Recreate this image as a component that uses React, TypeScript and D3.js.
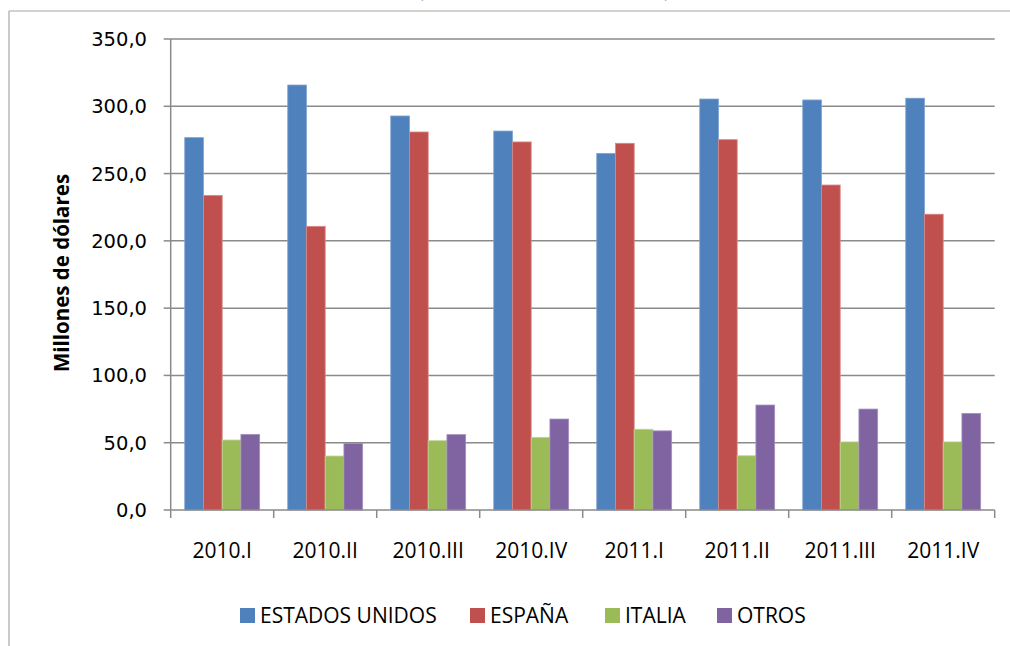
import React from "react";
import * as d3 from "d3";

const categories = ["2010.I", "2010.II", "2010.III", "2010.IV", "2011.I", "2011.II", "2011.III", "2011.IV"];
const seriesNames = ["ESTADOS UNIDOS", "ESPAÑA", "ITALIA", "OTROS"];
const estadosUnidos = [276.7, 315.8, 292.8, 281.6, 265.0, 305.4, 304.7, 306.0];
const espana = [233.8, 210.8, 280.9, 273.5, 272.5, 275.2, 241.5, 219.8];
const italia = [52.0, 40.1, 51.5, 54.0, 60.0, 40.3, 50.6, 50.6];
const otros = [56.2, 49.5, 56.0, 67.6, 58.8, 78.0, 75.0, 71.8];
const yTicks = [0, 50, 100, 150, 200, 250, 300, 350];

const seriesValues = [estadosUnidos, espana, italia, otros];
const colors = ["#4F81BD", "#C0504D", "#9BBB59", "#8064A2"];
const strokes = ["#7FA3D3", "#D88A88", "#BFD496", "#A48FC0"];

export default function App() {
  const W = 1010, H = 646;
  const x0 = 170.7, x1 = 994.7, yTop = 39, yBot = 510;
  const x = d3.scaleBand<string>().domain(categories).range([x0, x1]).paddingInner(0).paddingOuter(0);
  const xs = d3.scaleBand<string>().domain(seriesNames).range([0, x.bandwidth()]).paddingInner(0).paddingOuter(0.75);
  const y = d3.scaleLinear().domain([0, 350]).range([yBot, yTop]);
  const fmt = (v: number) => d3.format(".1f")(v).replace(".", ",");
  const legendX = [240, 470, 605, 717];
  const grid = "#8A8A8A";

  return (
    <svg width={W} height={H} style={{ position: "absolute", left: 0, top: 0, background: "#fff" }}>
      <rect x={0} y={0} width={W} height={H} fill="#fff" />
      {/* chart frame */}
      <line x1={9} y1={11} x2={W} y2={11} stroke="#A6A6A6" strokeWidth={1.2} />
      <line x1={9} y1={11} x2={9} y2={H} stroke="#A6A6A6" strokeWidth={1.2} />
      {/* title fragments */}
      <text x={421} y={-3} fontFamily="'Open Sans', sans-serif" fontSize={20} fill="#4F81BD" textAnchor="middle">(</text>
      <text x={667} y={-3} fontFamily="'Open Sans', sans-serif" fontSize={20} fill="#4F81BD" textAnchor="middle">)</text>

      {/* gridlines */}
      {yTicks.filter((t) => t > 0).map((t) => (
        <line key={t} x1={x0} x2={x1} y1={y(t)} y2={y(t)} stroke={grid} strokeWidth={1.5} />
      ))}

      {/* bars */}
      {categories.map((c, i) => (
        <g key={c} transform={`translate(${x(c)},0)`}>
          {seriesNames.map((s, j) => (
            <rect
              key={s}
              x={xs(s)}
              y={y(seriesValues[j][i])}
              width={xs.bandwidth()}
              height={yBot - y(seriesValues[j][i])}
              fill={colors[j]}
              stroke={strokes[j]}
              strokeWidth={0.8}
            />
          ))}
        </g>
      ))}

      {/* y axis */}
      <line x1={x0} x2={x0} y1={yTop} y2={yBot} stroke={grid} strokeWidth={1.5} />
      {yTicks.map((t) => (
        <g key={t}>
          <line x1={x0 - 7} x2={x0} y1={y(t)} y2={y(t)} stroke={grid} strokeWidth={1.5} />
          <text x={147} y={y(t)} dy="0.36em" textAnchor="end" fontFamily="'DejaVu Sans', sans-serif" fontSize={19.5} fill="#000">
            {fmt(t)}
          </text>
        </g>
      ))}

      {/* x axis */}
      <line x1={x0} x2={x1} y1={yBot} y2={yBot} stroke={grid} strokeWidth={1.5} />
      {categories.map((c) => (
        <line key={c} x1={x(c)} x2={x(c)} y1={yBot} y2={yBot + 8} stroke={grid} strokeWidth={1.5} />
      ))}
      <line x1={x1} x2={x1} y1={yBot} y2={yBot + 8} stroke={grid} strokeWidth={1.5} />
      {categories.map((c) => (
        <text key={c} x={(x(c) as number) + x.bandwidth() / 2} y={558} textAnchor="middle" fontFamily="'Open Sans', sans-serif" fontSize={21} fill="#000">
          {c}
        </text>
      ))}

      {/* y title */}
      <text transform="translate(69,273) rotate(-90)" textAnchor="middle" fontFamily="'Open Sans', sans-serif" fontWeight="bold" fontSize={20.5} fill="#000">
        Millones de dólares
      </text>

      {/* legend */}
      {seriesNames.map((s, j) => (
        <g key={s} transform={`translate(${legendX[j]},608)`}>
          <rect x={0} y={0} width={15} height={15} fill={colors[j]} />
          <text x={20} y={7.5} dy="0.36em" fontFamily="'Open Sans', sans-serif" fontSize={21} fill="#000">
            {s}
          </text>
        </g>
      ))}
    </svg>
  );
}
